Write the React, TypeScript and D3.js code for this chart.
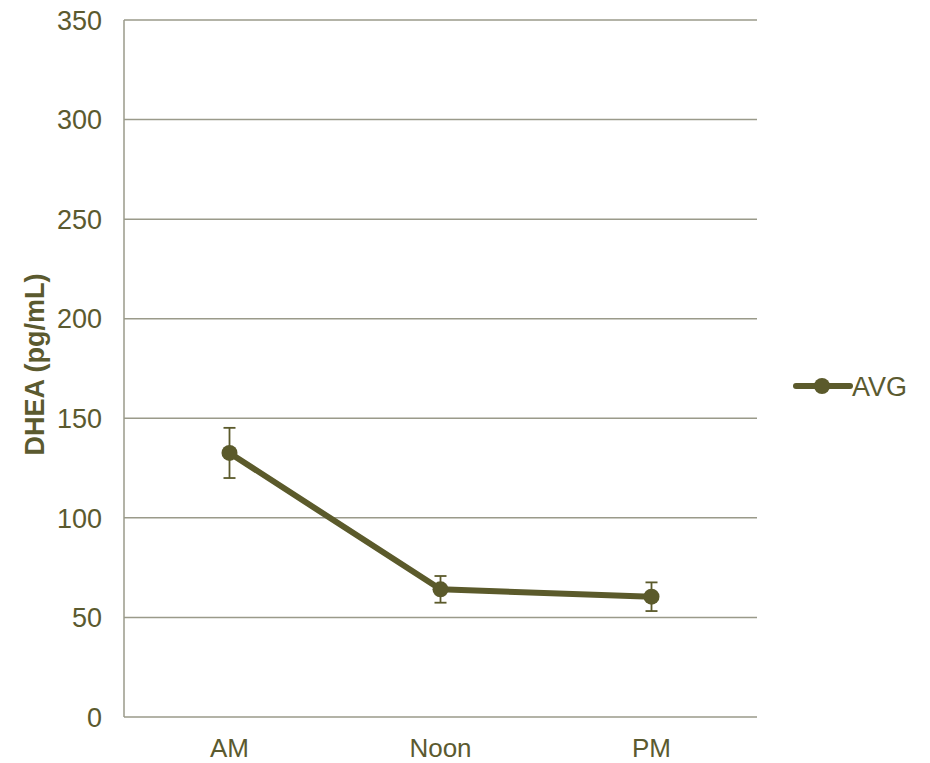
import React from "react";
import * as d3 from "d3";

const categories = ["AM", "Noon", "PM"];
const avgValues = [132.6, 64.1, 60.4];
const errValues = [12.6, 6.7, 7.2];
const yTicks = [0, 50, 100, 150, 200, 250, 300, 350];
const seriesName = "AVG";
const yTitle = "DHEA (pg/mL)";

const W = 930;
const H = 763;
const M = { left: 124, right: 757, top: 20, bottom: 717 };
const LINE = "#5b5a2b";
const TEXT = "#5b5a2f";
const GRID = "#9a9a8a";
const FONT = "'Liberation Sans', Arial, sans-serif";

export default function App() {
  const x = d3.scaleBand<string>().domain(categories).range([M.left, M.right]);
  const y = d3.scaleLinear().domain([0, 350]).range([M.bottom, M.top]);
  const cx = (c: string) => (x(c) as number) + x.bandwidth() / 2;
  const line = d3
    .line<number>()
    .x((_, i) => cx(categories[i]))
    .y((d) => y(d));

  return (
    <svg width={W} height={H} style={{ position: "absolute", left: 0, top: 0 }}>
      <rect width={W} height={H} fill="#fff" />
      {yTicks.map((t) => (
        <g key={t}>
          <line x1={M.left} x2={M.right} y1={y(t)} y2={y(t)} stroke={GRID} strokeWidth={1.5} />
          <text x={102} y={y(t)} dy="0.36em" textAnchor="end" fontFamily={FONT} fontSize={27} fill={TEXT}>
            {t}
          </text>
        </g>
      ))}
      <line x1={M.left} x2={M.left} y1={M.top} y2={M.bottom} stroke={GRID} strokeWidth={1.5} />
      {categories.map((c) => (
        <text key={c} x={cx(c)} y={757} textAnchor="middle" fontFamily={FONT} fontSize={26} fill={TEXT}>
          {c}
        </text>
      ))}
      <text
        transform={`translate(34,${(M.top + M.bottom) / 2 - 4}) rotate(-90)`}
        dy="0.36em"
        textAnchor="middle"
        fontFamily={FONT}
        fontSize={27}
        fontWeight="bold"
        fill={TEXT}
      >
        {yTitle}
      </text>
      {categories.map((c, i) => {
        const yt = y(avgValues[i] + errValues[i]);
        const yb = y(avgValues[i] - errValues[i]);
        const xx = cx(c);
        return (
          <g key={c} stroke={LINE} strokeWidth={1.8}>
            <line x1={xx} x2={xx} y1={yt} y2={yb} />
            <line x1={xx - 6} x2={xx + 6} y1={yt} y2={yt} />
            <line x1={xx - 6} x2={xx + 6} y1={yb} y2={yb} />
          </g>
        );
      })}
      <path d={line(avgValues) || ""} fill="none" stroke={LINE} strokeWidth={6} strokeLinejoin="round" />
      {categories.map((c, i) => (
        <circle key={c} cx={cx(c)} cy={y(avgValues[i])} r={8} fill={LINE} />
      ))}
      <line x1={796} x2={850} y1={386} y2={386} stroke={LINE} strokeWidth={6} strokeLinecap="round" />
      <circle cx={822} cy={386} r={8} fill={LINE} />
      <text x={852} y={386} dy="0.36em" fontFamily={FONT} fontSize={27} fill={TEXT}>
        {seriesName}
      </text>
    </svg>
  );
}
